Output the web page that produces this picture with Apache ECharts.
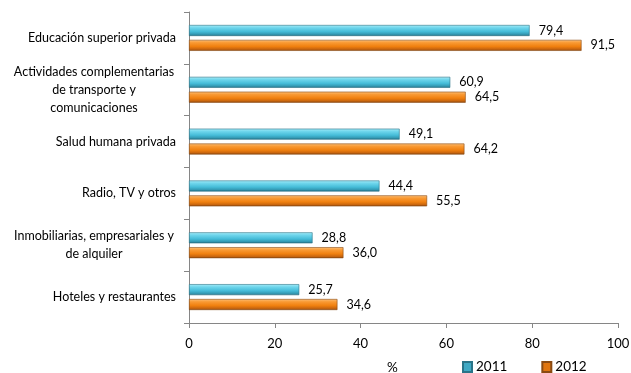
<!DOCTYPE html>
<html><head><meta charset="utf-8">
<script src="https://cdn.jsdelivr.net/npm/echarts@6/dist/echarts.min.js"></script>
<style>html,body{margin:0;padding:0;background:#fff}#c{width:631px;height:373px}</style>
</head><body><div id="c"></div>
<script>
var categories = ['Educación superior privada', 'Actividades complementarias\nde transporte y\ncomunicaciones', 'Salud humana privada', 'Radio, TV y otros', 'Inmobiliarias, empresariales y\nde alquiler', 'Hoteles y restaurantes'];
var values2011 = [79.4, 60.9, 49.1, 44.4, 28.8, 25.7];
var values2012 = [91.5, 64.5, 64.2, 55.5, 36.0, 34.6];
var seriesNames = ['2011', '2012'];
var FONT = 'Lato';

function grad(stops){
  return new echarts.graphic.LinearGradient(0,0,0,1, stops.map(function(s){return {offset:s[0], color:s[1]};}));
}
var cyan = grad([[0,'#a8ecf8'],[0.25,'#6fd6ec'],[0.6,'#45bcd8'],[0.85,'#3398b2'],[1,'#22677a']]);
var orange = grad([[0,'#fcc07a'],[0.25,'#f99a34'],[0.6,'#f0800f'],[0.85,'#c8650e'],[1,'#8a4710']]);

var chart = echarts.init(document.getElementById('c'));
function fmt(p){ return p.value.toFixed(1).replace('.', ','); }
chart.setOption({
  animation:false,
  textStyle:{fontFamily:FONT},
  grid:{left:189, right:13, top:12, bottom:50, containLabel:false, outerBoundsMode:'none'},
  legend:{
    data:[{name:'2011', itemStyle:{color:'#3fa9c4'}}, {name:'2012', itemStyle:{color:'#e0750f'}}],
    left:457, top:355, itemWidth:9, itemHeight:10, itemGap:34, icon:'rect',
    textStyle:{fontFamily:FONT, fontSize:13.5, color:'#000', padding:[0,0,0,-1]}
  },
  xAxis:{
    type:'value', min:0, max:100, interval:20,
    name:'%', nameLocation:'middle', nameGap:38,
    nameTextStyle:{fontFamily:FONT, fontSize:13.5, color:'#000', padding:[0,22,0,0]},
    axisLine:{show:true, lineStyle:{color:'#868686'}},
    axisTick:{show:true, length:5, lineStyle:{color:'#868686'}},
    splitLine:{show:false},
    axisLabel:{color:'#000', fontSize:13, fontFamily:FONT, margin:14}
  },
  yAxis:{
    type:'category', data:categories, inverse:true,
    axisLine:{show:true, lineStyle:{color:'#868686'}},
    axisTick:{show:true, length:5, lineStyle:{color:'#868686'}},
    axisLabel:{
      color:'#000', fontSize:12.5, fontFamily:FONT, margin:13, align:'right', lineHeight:18,
      formatter:function(v){
        if(v.indexOf('\n')<0) return v;
        return v.split('\n').map(function(l){return '{c|'+l+'}';}).join('\n');
      },
      rich:{c:{align:'center', width:164, fontSize:12.5, fontFamily:FONT, color:'#000', lineHeight:18}}
    }
  },
  series:[
    {name:'2011', type:'bar', data:values2011, barWidth:11, barGap:'35%',
     itemStyle:{color:cyan, borderColor:'#2a7488', borderWidth:0.6},
     label:{show:true, position:'right', distance:9, color:'#000', fontSize:12.5, fontFamily:FONT, formatter:fmt}},
    {name:'2012', type:'bar', data:values2012, barWidth:11,
     itemStyle:{color:orange, borderColor:'#8a4a12', borderWidth:0.6},
     label:{show:true, position:'right', distance:9, color:'#000', fontSize:12.5, fontFamily:FONT, formatter:fmt}}
  ]
});
</script></body></html>
